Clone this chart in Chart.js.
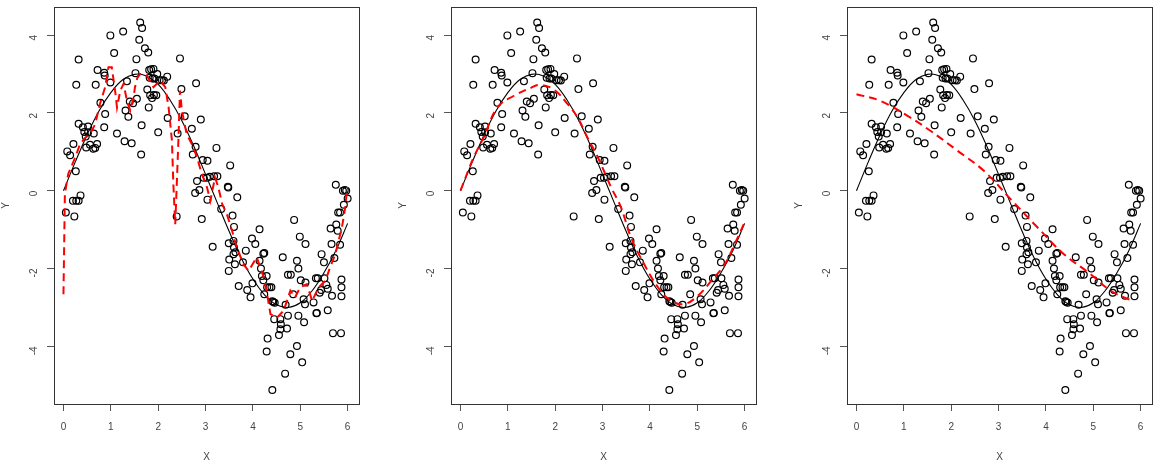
<!DOCTYPE html>
<html>
<head>
<meta charset="utf-8">
<script src="https://cdn.jsdelivr.net/npm/chart.js@4.4.1/dist/chart.umd.min.js"></script>
<style>
    html, body { margin: 0; padding: 0; background: #fff; }
    #wrap { position: relative; width: 1171px; height: 460px; overflow: hidden; }
    canvas { position: absolute; top: 0; }
</style>
</head>
<body>
<div id="wrap">
    <canvas id="panel1" width="380" height="460" style="left:0px"></canvas>
    <canvas id="panel2" width="380" height="460" style="left:397px"></canvas>
    <canvas id="panel3" width="380" height="460" style="left:793px"></canvas>
</div>
<script>
// ============================================================================
// Data
// ============================================================================
const xLabel = 'X';
const yLabel = 'Y';
const xTicks = [0, 1, 2, 3, 4, 5, 6];
const yTicks = [-4, -2, 0, 2, 4];

// Observed points (same in all three panels)
const pointX = [
    0.05, 0.08, 0.14, 0.21, 0.23, 0.20, 0.27, 0.32, 0.36, 0.26, 0.27, 0.32, 0.32, 0.41, 0.52, 0.44, 0.47, 0.48, 0.56, 0.64,
    0.63, 0.67, 0.71, 0.68, 0.72, 0.78, 0.86, 0.87, 0.88, 0.86, 0.99, 0.99, 1.07, 1.13, 1.26, 1.29, 1.31, 1.34, 1.37, 1.44,
    1.40, 1.47, 1.55, 1.54, 1.52, 1.60, 1.62, 1.66, 1.65, 1.64, 1.72, 1.79, 1.77, 1.80, 1.81, 1.85, 1.90, 1.82, 1.88, 1.83,
    1.87, 1.91, 1.96, 1.92, 1.98, 2.03, 2.08, 2.12, 2.19, 2.00, 2.20, 2.41, 2.39, 2.46, 2.49, 2.56, 2.71, 2.79, 2.80, 2.73,
    2.90, 2.94, 3.04, 2.78, 2.82, 2.87, 2.92, 3.04, 2.96, 3.03, 3.09, 3.18, 3.25, 3.15, 3.23, 3.33, 3.47, 3.48, 3.52, 3.57,
    3.60, 3.67, 3.49, 3.59, 3.50, 3.49, 3.60, 3.63, 3.59, 3.62, 3.70, 3.79, 3.85, 3.88, 3.95, 3.99, 3.98, 4.05, 4.14, 4.22,
    4.24, 4.14, 4.17, 4.19, 4.29, 4.22, 4.30, 4.35, 4.39, 4.24, 4.41, 4.43, 4.46, 4.45, 4.58, 4.59, 4.58, 4.55, 4.72, 4.74,
    4.31, 4.29, 4.41, 4.68, 4.79, 4.93, 5.04, 4.63, 4.69, 4.74, 4.80, 4.87, 4.93, 4.96, 4.99, 5.11, 4.85, 4.96, 5.08, 5.01,
    5.11, 5.07, 5.10, 5.28, 5.34, 5.35, 5.33, 5.37, 5.51, 5.41, 5.44, 5.45, 5.50, 5.55, 5.58, 5.58, 5.67, 5.64, 5.69, 5.86,
    5.75, 5.76, 5.79, 5.66, 5.72, 5.80, 5.84, 5.90, 5.94, 5.97, 5.92, 6.00, 5.84, 5.87, 5.87, 5.87, 0.52
];
const pointY = [
    -0.56, 1.01, 0.91, 1.20, -0.66, -0.26, -0.26, -0.26, -0.12, 0.50, 2.72, 3.37, 1.72, 1.63, 1.65, 1.51, 1.39, 1.11, 1.18, 1.47,
    1.08, 1.10, 1.20, 2.72, 3.10, 2.26, 3.03, 2.96, 1.97, 1.63, 3.99, 2.78, 3.54, 1.47, 4.09, 1.27, 2.06, 2.81, 1.90, 1.22,
    2.29, 2.25, 2.36, 3.38, 3.02, 3.88, 4.32, 4.18, 1.68, 0.93, 3.66, 3.55, 2.60, 2.14, 3.10, 3.12, 3.13, 2.90, 2.88, 2.45,
    2.38, 2.46, 2.45, 2.88, 3.00, 2.84, 2.84, 2.83, 2.93, 1.50, 1.87, 1.47, -0.66, 3.40, 2.61, 1.91, 1.59, 1.13, 2.76, 0.93,
    1.83, 0.79, 0.77, -0.06, 0.25, 0.02, -0.73, -0.23, 0.33, 0.33, 0.36, 0.37, 0.37, -1.44, 1.10, -0.47, 0.10, 0.08, 0.65, -0.64,
    -0.93, -0.17, -1.35, -1.29, -1.77, -2.06, -1.46, -1.58, -1.63, -1.89, -2.45, -1.84, -1.54, -2.55, -2.74, -2.38, -1.23, -1.37, -0.99, -1.62,
    -1.60, -1.80, -2.00, -2.19, -2.19, -2.30, -2.48, -2.48, -2.48, -2.66, -2.84, -2.86, -2.88, -3.30, -3.30, -3.43, -3.56, -3.71, -3.54, -3.21,
    -3.80, -4.13, -5.12, -4.70, -4.20, -3.99, -4.41, -1.71, -2.93, -2.16, -2.16, -0.75, -1.80, -2.00, -1.18, -1.37, -2.66, -3.21, -3.38, -2.30,
    -2.36, -2.79, -2.92, -2.87, -3.15, -3.14, -2.25, -2.25, -2.25, -2.62, -2.55, -1.63, -1.84, -2.42, -3.07, -2.52, -2.70, -0.97, -3.66, -3.66,
    0.15, -0.87, -1.03, -1.37, -1.73, -0.56, -0.56, 0.00, 0.02, 0.00, -0.36, -0.20, -1.39, -2.28, -2.48, -2.71, 1.50
];

// True curve (solid black), sampled every 0.25
const curveX = [0, 0.25, 0.5, 0.75, 1, 1.25, 1.5, 1.75, 2, 2.25, 2.5, 2.75, 3, 3.25, 3.5, 3.75, 4, 4.25, 4.5, 4.75, 5, 5.25, 5.5, 5.75, 6];
const curveY = [0, 0.74, 1.44, 2.05, 2.52, 2.85, 2.99, 2.95, 2.73, 2.33, 1.80, 1.15, 0.42, -0.32, -1.05, -1.72, -2.27, -2.68, -2.93, -3.00, -2.88, -2.57, -2.11, -1.54, -0.84];

// Panel 1: overfit (wiggly) red dashed fit
const wigglyX = [0, 0.03, 0.1, 0.25, 0.35, 0.45, 0.56, 0.67, 0.77, 0.88, 0.95, 1.02, 1.09, 1.13, 1.2, 1.27, 1.34, 1.41, 1.48, 1.51,
    1.56, 1.62, 1.76, 1.9, 2.04, 2.15, 2.22, 2.29, 2.32, 2.36, 2.39, 2.43, 2.46, 2.5, 2.6, 2.71, 2.82, 2.92, 3.03, 3.1,
    3.2, 3.27, 3.35, 3.45, 3.56, 3.66, 3.8, 3.91, 4.08, 4.23, 4.3, 4.37, 4.51, 4.65, 4.79, 4.89, 5.0, 5.14, 5.25, 5.39,
    5.53, 5.63, 5.74, 5.81, 5.88, 5.95, 5.99];
const wigglyY = [-2.66, -0.08, 0.43, 0.86, 1.2, 1.35, 1.46, 1.71, 2.23, 2.66, 3.17, 3.17, 2.57, 2.14, 2.57, 2.75, 2.31, 2.06, 2.4, 2.66,
    2.9, 3.0, 2.96, 2.66, 2.83, 2.66, 2.14, 1.29, 0.17, -0.86, 0.09, 1.4, 2.57, 2.06, 1.46, 1.2, 0.86, 0.43, 0.09, -0.26,
    0.34, 0.09, -0.34, -0.6, -1.03, -1.46, -1.89, -2.06, -1.71, -2.23, -2.66, -3.17, -3.26, -3.08, -2.57, -2.74, -2.48, -2.4, -2.83, -2.48,
    -2.31, -1.97, -1.63, -1.29, -0.94, -0.43, 0.09];

// Panel 2: well-tuned smooth red dashed fit
const smoothX = [0, 0.28, 0.49, 0.78, 1.13, 1.48, 1.69, 1.98, 2.26, 2.47, 2.68, 2.9, 3.18, 3.39, 3.6, 3.88, 4.17, 4.45, 4.73, 5.01, 5.3, 5.58, 5.79, 6.0];
const smoothY = [0, 0.86, 1.37, 2.14, 2.44, 2.64, 2.72, 2.59, 2.23, 1.89, 1.37, 0.86, 0.09, -0.43, -1.2, -1.89, -2.48, -2.83, -2.91, -2.7, -2.31, -1.89, -1.37, -0.81];

// Panel 3: underfit (nearly linear) red dashed fit
const linearX = [0, 0.5, 1.07, 1.56, 2.13, 2.69, 3.25, 3.82, 4.38, 4.94, 5.37, 5.82];
const linearY = [2.48, 2.31, 1.93, 1.54, 1.03, 0.51, -0.21, -0.94, -1.63, -2.14, -2.57, -2.83];

// ============================================================================
// Chart setup
// ============================================================================
const xMin = -0.2, xMax = 6.24;
const yMin = -5.48, yMax = 4.72;
const fontFamily = "'Liberation Sans', Arial, sans-serif";

function toPoints(xs, ys) {
    return xs.map((x, i) => ({ x: x, y: ys[i] }));
}

// Draws the R-style box around the plotting region
const plotBox = {
    id: 'plotBox',
    afterDraw(chart) {
        const { ctx, chartArea: a } = chart;
        ctx.save();
        ctx.strokeStyle = '#333';
        ctx.lineWidth = 1;
        ctx.strokeRect(Math.round(a.left) + 0.5, Math.round(a.top) + 0.5,
            Math.round(a.right - a.left), Math.round(a.bottom - a.top));
        ctx.restore();
    }
};

function makePanel(id, fitX, fitY, fitTension) {
    return new Chart(document.getElementById(id), {
        type: 'scatter',
        data: {
            datasets: [
                {
                    data: toPoints(fitX, fitY),
                    showLine: true,
                    borderColor: '#ff0000',
                    borderWidth: 2,
                    borderDash: [8, 5],
                    pointRadius: 0,
                    tension: fitTension
                },
                {
                    data: toPoints(curveX, curveY),
                    showLine: true,
                    borderColor: '#000',
                    borderWidth: 1.1,
                    pointRadius: 0,
                    tension: 0.4
                },
                {
                    data: toPoints(pointX, pointY),
                    pointRadius: 3.4,
                    pointBorderWidth: 1.2,
                    pointBorderColor: '#000',
                    pointBackgroundColor: 'rgba(0,0,0,0)'
                }
            ]
        },
        options: {
            responsive: false,
            animation: false,
            devicePixelRatio: 1,
            layout: { padding: { top: 7, right: 21, left: 0, bottom: 0 } },
            plugins: {
                legend: { display: false },
                tooltip: { enabled: false }
            },
            scales: {
                x: {
                    type: 'linear',
                    min: xMin,
                    max: xMax,
                    afterFit: s => { s.height = 56; s.paddingLeft = 0; s.paddingRight = 0; },
                    afterBuildTicks: s => { s.ticks = xTicks.map(v => ({ value: v })); },
                    grid: { drawOnChartArea: false, drawTicks: true, tickLength: 7, color: '#555' },
                    border: { display: false },
                    ticks: { color: '#444', font: { size: 10, family: fontFamily }, padding: 10, maxRotation: 0 },
                    title: { display: true, text: xLabel, color: '#444', font: { size: 10, family: fontFamily }, padding: { top: 0, bottom: -3 } }
                },
                y: {
                    type: 'linear',
                    min: yMin,
                    max: yMax,
                    afterFit: s => { s.width = 54; s.paddingTop = 0; s.paddingBottom = 0; },
                    afterBuildTicks: s => { s.ticks = yTicks.map(v => ({ value: v })); },
                    grid: { drawOnChartArea: false, drawTicks: true, tickLength: 7, color: '#555' },
                    border: { display: false },
                    ticks: { color: '#444', font: { size: 10, family: fontFamily }, padding: 13, minRotation: 90, maxRotation: 90 },
                    title: { display: true, text: yLabel, color: '#444', font: { size: 10, family: fontFamily }, padding: 0 }
                }
            }
        },
        plugins: [plotBox]
    });
}

makePanel('panel1', wigglyX, wigglyY, 0);
makePanel('panel2', smoothX, smoothY, 0.4);
makePanel('panel3', linearX, linearY, 0.4);
</script>
</body>
</html>
